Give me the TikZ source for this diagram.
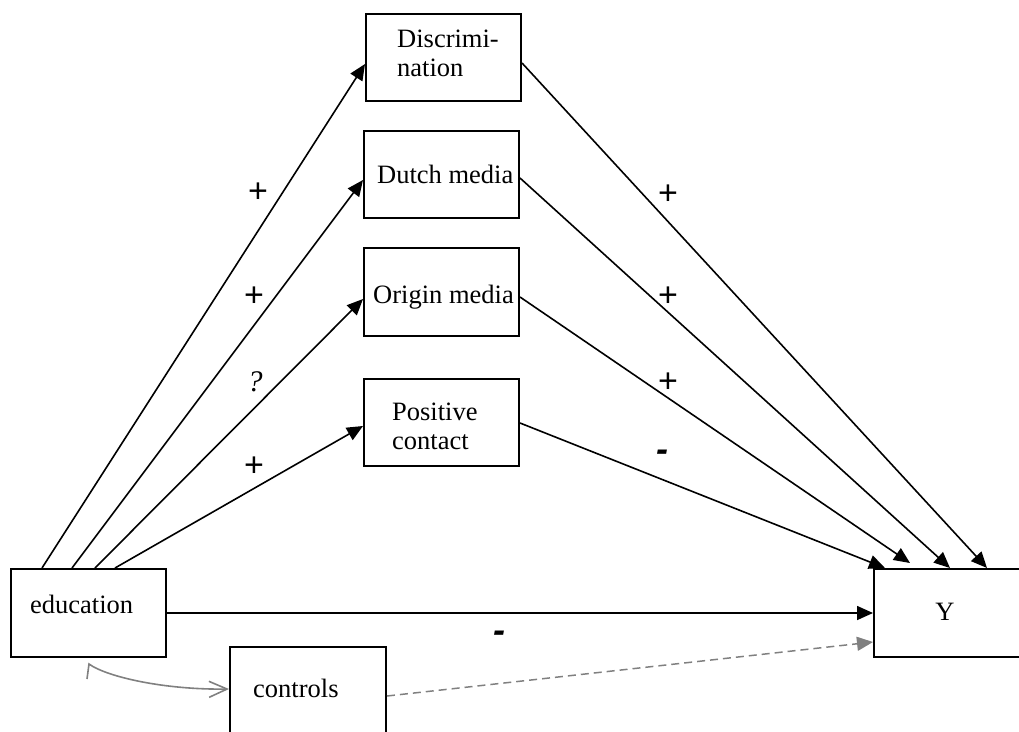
\documentclass[tikz,border=0pt]{standalone}
\usepackage{fontspec}
\setmainfont{Liberation Serif}
\setsansfont{Liberation Sans}
\usetikzlibrary{arrows.meta,calc}
\definecolor{arrgray}{RGB}{128,128,128}
\begin{document}
\begin{tikzpicture}[x=1pt,y=-1pt,
  box/.style={draw,line width=2pt,minimum width=155pt,minimum height=87pt,anchor=north west,inner sep=0pt},
  txt/.style={inner sep=0pt,anchor=base west,font=\fontsize{26.5}{30}\selectfont},
  conn/.style={line width=1.6pt,-{Triangle[length=16pt,width=14pt]}},
  sign/.style={inner sep=0pt,font=\sffamily\fontsize{34}{34}\selectfont},
  neg/.style={inner sep=0pt,font=\sffamily\bfseries\itshape\fontsize{36}{36}\selectfont},
  ctlconn/.style={line width=1.5pt,draw=arrgray,dash pattern=on 8pt off 5pt,-{Triangle[length=16pt,width=14pt,fill=arrgray]}},
  curv/.style={line width=1.6pt,draw=arrgray,-{Straight Barb[length=18pt,width=16pt]}}
]
\useasboundingbox (0,0) rectangle (1019,731);
% boxes
\node[box] (disc) at (365,13) {};
\node[box] (dutch) at (363,130) {};
\node[box,minimum height=88pt] (origin) at (363,247) {};
\node[box] (pos) at (363,378) {};
\node[box,minimum height=88pt] (edu) at (10,568) {};
\node[box,minimum width=156pt,minimum height=95pt] (ctl) at (229,646) {};
\node[box,minimum width=160pt,minimum height=88pt] (Y) at (873,568) {};
% texts
\node[txt] (t1a) at (397,47) {Discrimi-};
\node[txt] (t1b) at (397,76) {nation};
\node[txt] (t2) at (377,183) {Dutch media};
\node[txt] (t3) at (373,303) {Origin media};
\node[txt] (t4a) at (392,420) {Positive};
\node[txt] (t4b) at (392,449) {contact};
\node[txt] (t5) at (30,613) {education};
\node[txt] (t6) at (253,697) {controls};
\node[txt,anchor=base] (t7) at (945,620) {Y};
% connectors from education
\draw[conn] ($(edu.north west)+(32,0)$) -- ($(disc.north west)+(0,51)$);
\draw[conn] ($(edu.north west)+(62,0)$) -- ($(dutch.north west)+(0,50)$);
\draw[conn] ($(edu.north west)+(85,0)$) -- ($(origin.north west)+(0,52)$);
\draw[conn] ($(edu.north west)+(105,0)$) -- ($(pos.north west)+(0,48)$);
% connectors to Y
\draw[conn] ($(disc.north east)+(0,50)$) -- ($(Y.north west)+(114,0)$);
\draw[conn] ($(dutch.north east)+(0,48)$) -- ($(Y.north west)+(77,0)$);
\draw[conn] ($(origin.north east)+(0,50)$) -- ($(Y.north west)+(37,-5)$);
\draw[conn] ($(pos.north east)+(0,45)$) -- ($(Y.north west)+(12,0)$);
\draw[conn] (edu.east) -- (edu.east -| Y.west);
\draw[ctlconn] ($(ctl.north east)+(0,50)$) -- ($(Y.north west)+(0,74)$);
% curved two-way link
\coordinate (hook) at (87,679);
\draw[curv] (hook) -- ($(edu.south west)+(79,6)$) .. controls (107,677) and (165,690) .. ($(ctl.north west)+(0,43)$);
% signs
\node[sign] (s1) at (258,193) {+};
\node[sign] (s2) at (254,297) {+};
\node[inner sep=0pt,font=\itshape\fontsize{30}{30}\selectfont] (s3) at (255,382) {?};
\node[sign] (s4) at (254,467) {+};
\node[sign] (s5) at (668,195) {+};
\node[sign] (s6) at (668,297) {+};
\node[sign] (s7) at (668,383) {+};
\node[neg] (s8) at (662,456) {-};
\node[neg] (s9) at (499,637) {-};
\end{tikzpicture}
\end{document}
